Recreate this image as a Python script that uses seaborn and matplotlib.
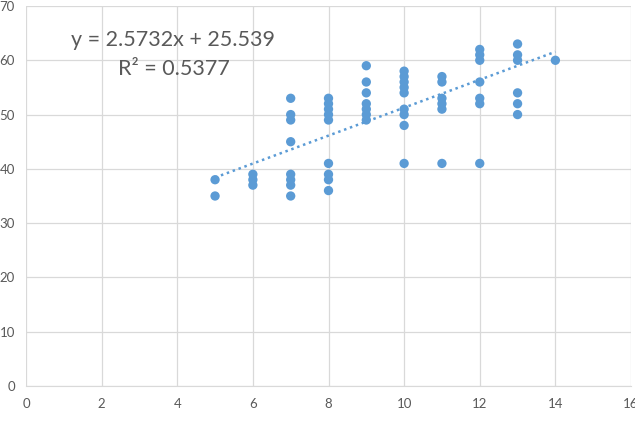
import numpy as np
import pandas as pd
import matplotlib.pyplot as plt
import seaborn as sns

# values
x_vals = [5, 5,
          6, 6, 6,
          7, 7, 7, 7, 7, 7, 7, 7,
          8, 8, 8, 8, 8, 8, 8, 8, 8,
          9, 9, 9, 9, 9, 9, 9,
          10, 10, 10, 10, 10, 10, 10, 10, 10,
          11, 11, 11, 11, 11, 11,
          12, 12, 12, 12, 12, 12, 12,
          13, 13, 13, 13, 13, 13,
          14]
y_vals = [38, 35,
          37, 38, 39,
          53, 50, 49, 45, 39, 38, 37, 35,
          53, 52, 51, 50, 49, 41, 39, 38, 36,
          59, 56, 54, 52, 51, 50, 49,
          58, 57, 56, 55, 54, 51, 50, 48, 41,
          57, 56, 53, 52, 51, 41,
          62, 61, 60, 56, 53, 52, 41,
          63, 61, 60, 54, 52, 50,
          60]
# trendline as printed on the chart
slope = 2.5732
intercept = 25.539
r_squared = 0.5377

df = pd.DataFrame({"x": x_vals, "y": y_vals})
trend_x = [df["x"].min(), df["x"].max()]
trend = pd.DataFrame({"x": trend_x, "y": [slope * v + intercept for v in trend_x]})

sns.set_style("white")
plt.rcParams["font.family"] = ["Lato", "DejaVu Sans"]

blue = "#5B9BD5"
grey_text = "#595959"

fig = plt.figure(figsize=(6.35, 4.22), dpi=100)
ax = fig.add_axes([26 / 635, 36 / 422, 605 / 635, 380 / 422])

sns.scatterplot(data=df, x="x", y="y", ax=ax, s=45, color=blue,
                edgecolor="none", zorder=3)
sns.lineplot(data=trend, x="x", y="y", ax=ax, color=blue,
             linestyle=(0, (1, 1.5)), linewidth=1.8, zorder=4)

ax.set_xlim(0, 16)
ax.set_ylim(0, 70)
ax.set_xticks(range(0, 17, 2))
ax.set_yticks(range(0, 71, 10))
ax.grid(True, color="#D9D9D9", linewidth=0.9)
ax.set_axisbelow(True)
for side in ["left", "right", "top"]:
    ax.spines[side].set_visible(False)
ax.spines["bottom"].set_color("#D9D9D9")
ax.tick_params(length=0, labelsize=9.5, colors=grey_text)
ax.tick_params(axis="x", pad=9)
ax.tick_params(axis="y", pad=8)
ax.set_xlabel("")
ax.set_ylabel("")

eq = f"y = {slope}x + {intercept}\nR² = {r_squared}"
ax.text(3.9, 61.0, eq, ha="center", va="center",
        fontsize=15.5, color=grey_text, linespacing=1.55)

fig.savefig("out.png", dpi=100)
